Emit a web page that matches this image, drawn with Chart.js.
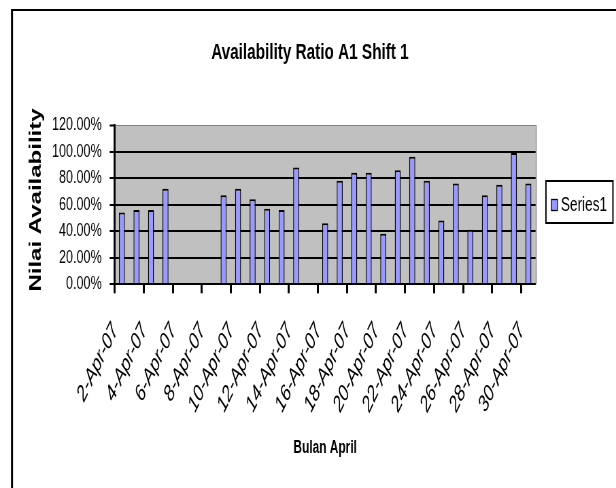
<!DOCTYPE html>
<html>
<head>
<meta charset="utf-8">
<script src="https://cdn.jsdelivr.net/npm/chart.js@4/dist/chart.umd.min.js"></script>
<style>
  html, body { margin: 0; padding: 0; background: #fff; overflow: hidden; }
  #wrap { width: 616px; height: 488px; overflow: hidden; position: relative; }
  /* the chart is laid out on a wider canvas and squeezed horizontally */
  #squeeze { position: absolute; left: 0; top: 0; transform-origin: 0 0; }
</style>
</head>
<body>
<div id="wrap"><div id="squeeze"><canvas id="c"></canvas></div></div>
<script>
// Days of April 2007 shown on the category axis
const days = [
  '2-Apr-07', '3-Apr-07', '4-Apr-07', '5-Apr-07', '6-Apr-07', '7-Apr-07', '8-Apr-07',
  '9-Apr-07', '10-Apr-07', '11-Apr-07', '12-Apr-07', '13-Apr-07', '14-Apr-07', '15-Apr-07',
  '16-Apr-07', '17-Apr-07', '18-Apr-07', '19-Apr-07', '20-Apr-07', '21-Apr-07', '22-Apr-07',
  '23-Apr-07', '24-Apr-07', '25-Apr-07', '26-Apr-07', '27-Apr-07', '28-Apr-07', '29-Apr-07',
  '30-Apr-07'
];

// Availability ratio per day, in percent (null = no data recorded)
const series1 = [
  54, 56, 56, 72, null, null, null,
  67, 72, 64, 57, 56, 88, null,
  46, 78, 84, 84, 38, 86, 96,
  78, 48, 76, 41, 67, 75, 99,
  76
];

// Value axis ticks, in percent
const yTicks = [0, 20, 40, 60, 80, 100, 120];

const seriesName = 'Series1';
const chartTitle = 'Availability Ratio A1 Shift 1';
const xTitle = 'Bulan April';
const yTitle = 'Nilai Availability';

// Horizontal squeeze applied to the whole drawing
const K = 0.68;
const W = Math.round(616 / K);
const H = 488;
const sx = (x) => x / K;

const canvas = document.getElementById('c');
canvas.width = W;
canvas.height = H;
canvas.style.width = W + 'px';
canvas.style.height = H + 'px';
document.getElementById('squeeze').style.transform = 'scaleX(' + (616 / W) + ')';

const FONT = "'Liberation Sans', Arial, sans-serif";
const BAR_FILL = '#9999FF';

// Frame, plot background, plot border, titles and legend box
const decorations = {
  id: 'decorations',
  beforeDraw(chart) {
    const { ctx, chartArea: a } = chart;
    ctx.save();
    ctx.fillStyle = '#fff';
    ctx.fillRect(0, 0, chart.width, chart.height);
    ctx.fillStyle = '#C0C0C0';
    ctx.fillRect(a.left, a.top, a.right - a.left, a.bottom - a.top);
    ctx.restore();
  },
  afterDraw(chart) {
    const { ctx, chartArea: a } = chart;
    ctx.save();
    // outer chart frame
    ctx.fillStyle = '#000';
    ctx.fillRect(sx(11), 9, sx(2), chart.height - 9);
    ctx.fillRect(sx(11), 9, chart.width - sx(11), 2);

    // plot area right border
    ctx.fillStyle = '#808080';
    ctx.fillRect(a.right, a.top, sx(1), a.bottom - a.top);

    // chart title
    ctx.fillStyle = '#000';
    ctx.font = 'bold 22.5px ' + FONT;
    ctx.textAlign = 'center';
    ctx.textBaseline = 'middle';
    ctx.fillText(chartTitle, sx(310), 53);

    // value axis title
    ctx.save();
    ctx.translate(sx(36), 200);
    ctx.rotate(-Math.PI / 2);
    ctx.font = 'bold 24px ' + FONT;
    ctx.textAlign = 'center';
    ctx.textBaseline = 'middle';
    ctx.fillText(yTitle, 0, 0);
    ctx.restore();

    // legend
    const lx = sx(546), ly = 181, lw = sx(67), lh = 42;
    ctx.fillStyle = '#fff';
    ctx.fillRect(lx, ly, lw, lh);
    ctx.strokeStyle = '#000';
    ctx.lineWidth = 2;
    ctx.strokeRect(lx, ly, lw, lh);
    ctx.fillStyle = BAR_FILL;
    ctx.fillRect(sx(551.5), 199.5, sx(6), 11);
    ctx.lineWidth = 1.3;
    ctx.strokeRect(sx(551.5), 199.5, sx(6), 11);
    ctx.fillStyle = '#000';
    ctx.font = '20px ' + FONT;
    ctx.textAlign = 'left';
    ctx.textBaseline = 'middle';
    ctx.fillText(seriesName, sx(561), 205);
    ctx.restore();
  }
};

new Chart(canvas, {
  type: 'bar',
  data: {
    labels: days,
    datasets: [{
      label: seriesName,
      data: series1,
      backgroundColor: BAR_FILL,
      borderColor: '#000',
      borderWidth: { top: 2, left: 1.4, right: 1.4, bottom: 0 },
      borderSkipped: 'start',
      barPercentage: 0.41,
      categoryPercentage: 1
    }]
  },
  options: {
    responsive: false,
    animation: false,
    devicePixelRatio: 1,
    layout: { padding: { left: 0, right: W - sx(535.7), top: 125, bottom: 0 } },
    plugins: {
      legend: { display: false },
      tooltip: { enabled: false },
      title: { display: false }
    },
    scales: {
      x: {
        afterFit(scale) { scale.height = H - 284.3; },
        grid: {
          offset: true,
          drawOnChartArea: false,
          drawTicks: true,
          tickLength: 9,
          tickWidth: 3,
          tickColor: (c) => (c.index !== undefined && c.index % 2 === 0) ? '#000' : 'rgba(0,0,0,0)'
        },
        border: { display: true, color: '#000', width: 2 },
        ticks: {
          autoSkip: false,
          minRotation: 55,
          maxRotation: 55,
          padding: 25,
          labelOffset: -10,
          color: '#000',
          font: { family: FONT, size: 23, style: 'italic' },
          callback: (v, i) => (i % 2 === 0 ? days[i] : '')
        },
        title: {
          display: true,
          text: xTitle,
          color: '#000',
          font: { family: FONT, size: 17.5, weight: 'bold' },
          padding: { top: 0, bottom: 29 }
        }
      },
      y: {
        min: yTicks[0],
        max: yTicks[yTicks.length - 1],
        afterFit(scale) { scale.width = sx(114.7); },
        afterBuildTicks(scale) { scale.ticks = yTicks.map(v => ({ value: v })); },
        grid: {
          color: (c) => (c.tick && c.tick.value === 120) ? '#808080' : '#000',
          lineWidth: (c) => (c.tick && c.tick.value === 120) ? 1 : 2,
          tickLength: 7.4,
          tickColor: '#000',
          tickWidth: 2
        },
        border: { display: true, color: '#000', width: 3 },
        ticks: {
          padding: 11.7,
          color: '#000',
          font: { family: FONT, size: 18.5 },
          callback: (v) => Number(v).toFixed(2) + '%'
        }
      }
    }
  },
  plugins: [decorations]
});
</script>
</body>
</html>
